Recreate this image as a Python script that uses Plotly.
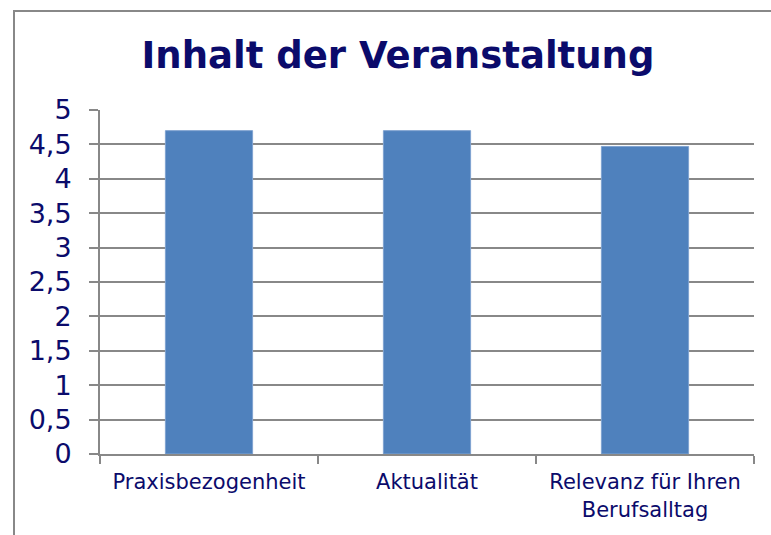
import plotly.graph_objects as go

categories = ["Praxisbezogenheit", "Aktualität", "Relevanz für Ihren<br>Berufsalltag"]
values = [4.7, 4.7, 4.47]
y_ticks = [0, 0.5, 1, 1.5, 2, 2.5, 3, 3.5, 4, 4.5, 5]
y_tick_labels = ["0", "0,5", "1", "1,5", "2", "2,5", "3", "3,5", "4", "4,5", "5"]
title_text = "Inhalt der Veranstaltung"

navy = "#0B0B6B"
grid = "#888888"

fig = go.Figure(go.Bar(
    x=categories, y=values,
    marker=dict(color="#4F81BD", line=dict(color="#7FA3D1", width=1)),
    width=0.4,
))

W, H = 771, 535
L, R, T, B = 100, 17, 110, 81
pw, ph = W - L - R, H - T - B

fig.update_layout(
    width=W, height=H,
    margin=dict(l=L, r=R, t=T, b=B, pad=0),
    paper_bgcolor="white", plot_bgcolor="white",
    showlegend=False,
    title=dict(text="<b>" + title_text + "</b>", x=398 / W, xanchor="center",
               y=1 - 55 / H, yanchor="middle",
               font=dict(family="DejaVu Sans", size=37, color=navy)),
    xaxis=dict(
        tickson="boundaries", ticks="outside", ticklen=8, tickcolor=grid, tickwidth=2,
        showline=True, linecolor=grid, linewidth=2,
        showgrid=False,
        tickfont=dict(family="DejaVu Sans", size=21, color=navy),
        ticklabelstandoff=8,
    ),
    yaxis=dict(
        range=[0, 5], tickvals=y_ticks, ticktext=y_tick_labels,
        ticks="outside", ticklen=9, tickcolor=grid, tickwidth=2,
        showline=True, linecolor=grid, linewidth=2,
        showgrid=True, gridcolor=grid, gridwidth=2,
        zeroline=False,
        tickfont=dict(family="DejaVu Sans", size=27, color=navy),
        ticklabelstandoff=12,
    ),
    shapes=[
        dict(type="line", xref="paper", yref="paper",
             x0=(14 - L) / pw, x1=(14 - L) / pw, y0=1 + (T - 10) / ph, y1=-(B + 5) / ph,
             line=dict(color=grid, width=2)),
        dict(type="line", xref="paper", yref="paper",
             x0=(14 - L) / pw, x1=1 + (R + 5) / pw, y0=1 + (T - 11) / ph, y1=1 + (T - 11) / ph,
             line=dict(color=grid, width=2)),
    ],
)

fig.write_html("out.html", config={"displayModeBar": False},
               post_script="document.body.style.margin='0';document.body.style.padding='0';")
